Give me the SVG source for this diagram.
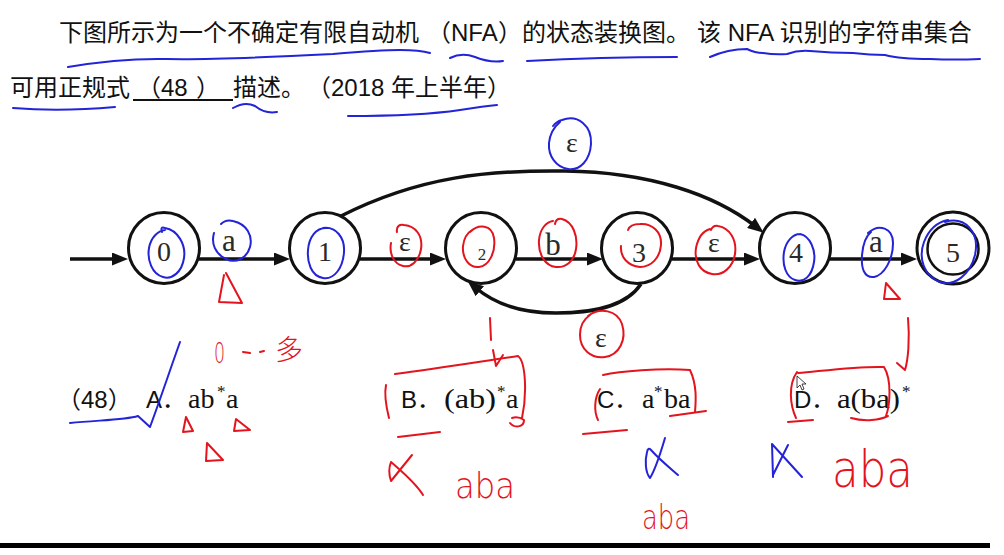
<svg xmlns="http://www.w3.org/2000/svg" width="1004" height="555" viewBox="0 0 1004 555">
<style>
.q{font-family:"Liberation Sans","Noto Sans CJK SC",sans-serif;font-size:24px;fill:#111;font-feature-settings:"chws" 0,"halt" 0;text-spacing-trim:space-all}
.st{fill:none;stroke:#111;stroke-width:3}
.st2{fill:none;stroke:#111;stroke-width:2.5}
.ed{fill:none;stroke:#111;stroke-width:3.5}
.lb{font-family:"Liberation Serif",serif;font-size:28px;fill:#2a2a2a;text-anchor:middle}
.la{font-size:31px}
.bl{fill:none;stroke:#2323d8;stroke-width:2;stroke-linecap:round;stroke-linejoin:round}
.rd{fill:none;stroke:#e3141e;stroke-width:2;stroke-linecap:round;stroke-linejoin:round}
.rt{font-family:"DejaVu Sans","Liberation Sans","Noto Sans CJK SC",sans-serif;font-weight:200;fill:#e3141e}
.rx{font-family:"Liberation Serif",serif;font-size:28px;fill:#111}
.sup{font-family:"Liberation Serif",serif;font-size:17px;fill:#111}
</style>
<defs>
<marker id="arr" markerUnits="userSpaceOnUse" markerWidth="16" markerHeight="13" refX="5" refY="6.5" orient="auto">
<path d="M0,0 L16,6.5 L0,13 z" fill="#111"/>
</marker>
</defs>
<rect width="1004" height="555" fill="#fff"/>

<g id="question">
<text class="q" y="41"><tspan x="59">下图所示为一个不确定有限自动机</tspan><tspan x="427">（</tspan><tspan x="451">NFA</tspan><tspan x="498">）的状态装换图。</tspan><tspan x="697">该 NFA 识别的字符串集合</tspan></text>
<text class="q" y="96"><tspan x="10">可用正规式</tspan><tspan x="137">（48</tspan><tspan x="196">）</tspan><tspan x="233">描述。</tspan><tspan x="307">（2018 年上半年）</tspan></text>
<line x1="133" y1="100" x2="233" y2="100" stroke="#111" stroke-width="2"/>
</g>

<g id="connectors">
<path class="ed" d="M70,259 H117" marker-end="url(#arr)"/>
<path class="ed" d="M199,259 H279" marker-end="url(#arr)"/>
<path class="ed" d="M360,259 H435" marker-end="url(#arr)"/>
<path class="ed" d="M516,259 H592" marker-end="url(#arr)"/>
<path class="ed" d="M672,259 H749" marker-end="url(#arr)"/>
<path class="ed" d="M830,259 H906" marker-end="url(#arr)"/>
<path class="ed" d="M341,216 C420,176 490,170 565,171 C650,172 715,195 755,226" marker-end="url(#arr)"/>
<path class="ed" d="M641,284 C625,308 590,313 556,313 C520,313 495,304 476,288" marker-end="url(#arr)"/>
<text class="lb la" x="229" y="251">a</text>
<text class="lb" x="405" y="251">ε</text>
<text class="lb la" x="553" y="255">b</text>
<text class="lb" x="714" y="252">ε</text>
<text class="lb la" x="876" y="252">a</text>
<text class="lb" x="572" y="152">ε</text>
<text class="lb" x="601" y="347">ε</text>
</g>

<g id="s0"><circle class="st" cx="164" cy="248" r="35.5"/><text class="lb" x="164" y="261">0</text></g>
<g id="s1"><circle class="st" cx="325" cy="248" r="35.5"/><text class="lb" x="325" y="261">1</text></g>
<g id="s2"><circle class="st" cx="481" cy="248" r="35.5"/><text class="lb" x="482" y="260" style="font-size:17px">2</text></g>
<g id="s3"><circle class="st" cx="637" cy="248" r="35.5"/><text class="lb" x="639" y="262">3</text></g>
<g id="s4"><circle class="st" cx="795" cy="248" r="35.5"/><text class="lb" x="796" y="262">4</text></g>
<g id="s5"><circle class="st" cx="953" cy="248" r="36"/><circle class="st2" cx="953" cy="249" r="25.5"/><text class="lb" x="953" y="262">5</text></g>

<g id="options">
<text class="q" y="408"><tspan x="57">（48）</tspan><tspan x="146">A．</tspan></text>
<text class="rx" x="188" y="408">ab</text><text class="sup" x="217" y="397">*</text><text class="rx" x="226" y="408">a</text>
<text class="q" x="401" y="408">B．</text>
<text class="rx" x="444" y="408" textLength="52" lengthAdjust="spacingAndGlyphs">(ab)</text><text class="sup" x="497" y="397">*</text><text class="rx" x="506" y="408">a</text>
<text class="q" x="597" y="408">C．</text>
<text class="rx" x="642" y="408">a</text><text class="sup" x="654" y="397">*</text><text class="rx" x="664" y="408">ba</text>
<text class="q" x="794" y="408">D．</text>
<text class="rx" x="837" y="408" textLength="63" lengthAdjust="spacingAndGlyphs">a(ba)</text><text class="sup" x="902" y="397">*</text>
</g>

<g id="annotations">
<path class="bl" d="M68,67 Q120,58 167,59 T333,54 Q380,50 400,50 Q420,50 430,53"/>
<path class="bl" d="M450,58 Q462,52 475,57 Q490,63 503,61"/>
<path class="bl" d="M527,61 Q600,57 677,57"/>
<path class="bl" d="M710,57 Q728,49 747,49 Q755,53 763,53 Q775,55 787,54 Q798,50 810,51 Q832,53 853,53 Q870,55 885,55 Q900,59 930,59 Q955,60 980,59"/>
<path class="bl" d="M13,108 Q60,112 115,107"/>
<path class="bl" d="M233,108 Q245,101 255,106 Q265,114 277,112"/>
<path class="bl" d="M348,116 Q420,116 460,110 Q485,106 497,105"/>
<path class="bl" d="M162,232 Q160,226 165,228 C178,230 186,245 184,258 C182,272 172,280 163,277 C152,274 147,260 149,248 C151,237 158,231 165,230"/>
<path class="bl" d="M221,224 Q226,219 233,221 C247,224 253,236 250,247 C247,258 236,264 226,259 C215,254 211,243 214,233"/>
<path class="bl" d="M323,228 C336,226 345,238 344,252 C343,268 334,280 323,278 C311,276 307,262 308,250 C309,237 316,228 326,228"/>
<path class="bl" d="M553,126 Q557,121 562,120 C578,114 592,126 591,144 C590,160 580,171 568,169 C556,167 548,156 549,143 C550,133 554,127 560,122"/>
<path class="bl" d="M800,234 C810,236 816,250 814,262 C812,276 804,283 795,280 C786,277 782,265 784,252 C786,241 793,234 800,234"/>
<path class="bl" d="M868,233 C879,223 893,228 893,243 C893,260 884,275 874,277 C864,278 861,268 862,255 C863,243 866,236 871,232"/>
<path class="bl" d="M945,222 C965,216 980,232 975,255 C970,275 954,287 940,282 C924,276 918,258 924,242 C929,229 938,222 948,220"/>
<path class="bl" d="M70,423 C100,420 125,420 138,416 L150,427 C160,400 170,370 180,342"/>
<path class="bl" d="M665,438 C660,455 655,470 650,478 C645,472 645,460 647,452 Q648,447 651,450 C660,460 670,468 678,475"/>
<path class="bl" d="M773,477 L772,444 L802,477 M788,445 L773,475"/>

<path class="rd" d="M397,232 C396,226 400,224 404,225 C416,226 423,236 421,249 C419,261 411,268 403,266 C394,264 389,254 391,243"/>
<path class="rd" d="M470,232 C478,224 492,224 494,238 C496,252 489,266 479,267 C469,268 462,258 463,246 C464,238 467,233 472,230"/>
<path class="rd" d="M555,224 Q556,218 562,219 C573,222 578,236 576,249 C574,262 565,268 556,267 C545,266 538,254 539,240 C540,229 546,222 553,221"/>
<path class="rd" d="M628,230 Q630,224 640,224 C652,223 662,232 661,245 C660,258 651,267 640,267 C628,266 620,257 621,246"/>
<path class="rd" d="M711,230 Q713,225 718,226 C730,228 737,240 735,254 C733,267 723,276 712,274 C700,272 694,261 696,248 C698,238 703,231 710,229"/>
<path class="rd" d="M588,316 C600,307 617,310 622,324 C627,340 619,355 605,357 C591,359 580,349 580,335 C580,325 584,319 590,315"/>
<path class="rd" d="M224,275 L219,302 L242,303 L226,273"/>
<path class="rd" d="M886,283 L884,299 L900,299 Z"/>
<path class="rd" d="M186,417 L183,432 L193,431 Z"/>
<path class="rd" d="M236,419 L234,431 L250,430 Z"/>
<path class="rd" d="M207,443 L206,461 L223,460 Z"/>
<text class="rt" x="214" y="363" style="font-size:28px" textLength="11" lengthAdjust="spacingAndGlyphs">0</text>
<path class="rd" d="M243,352 L250,353 M260,352 L264,351"/>
<text class="rt" x="275" y="360" style="font-size:28px">多</text>
<path class="rd" d="M490,318 L491,340 M493,350 L496,366 L503,355"/>
<path class="rd" d="M386,385 C384,395 387,410 389,418"/>
<path class="rd" d="M395,374 C440,368 490,360 518,356 C526,362 527,395 522,418"/>
<path class="rd" d="M510,423 C514,428 524,428 524,420 Q518,416 512,418"/>
<path class="rd" d="M398,437 L440,432"/>
<path class="rd" d="M412,455 L391,481 C389,475 389,467 391,462 C400,470 415,482 423,495"/>
<text class="rt" x="455" y="498" style="font-size:36px" textLength="60" lengthAdjust="spacingAndGlyphs">aba</text>
<path class="rd" d="M600,389 C594,398 594,412 598,420"/>
<path class="rd" d="M603,375 C620,371 660,368 690,370 C697,385 696,400 695,412"/>
<path class="rd" d="M670,416 C685,414 698,412 706,411"/>
<path class="rd" d="M583,434 L627,430"/>
<text class="rt" x="642" y="529" style="font-size:34px" textLength="48" lengthAdjust="spacingAndGlyphs">aba</text>
<path class="rd" d="M797,372 C788,385 790,405 796,418"/>
<path class="rd" d="M798,373 C830,370 860,366 884,367 C892,380 890,405 886,416"/>
<path class="rd" d="M851,418 C865,422 880,420 888,416"/>
<path class="rd" d="M788,422 L813,420"/>
<path class="rd" d="M908,318 C910,340 908,360 905,370 L897,363"/>
<text class="rt" transform="translate(832,487) scale(1,1.3)" x="0" y="0" style="font-size:40px" textLength="81" lengthAdjust="spacingAndGlyphs">aba</text>
<polygon points="797,376 797,388 800,385 802,390 804,389 802,384 806,384" fill="#fff" stroke="#111" stroke-width="0.8"/>
</g>

<rect x="0" y="543" width="990" height="5" fill="#000"/>
</svg>
